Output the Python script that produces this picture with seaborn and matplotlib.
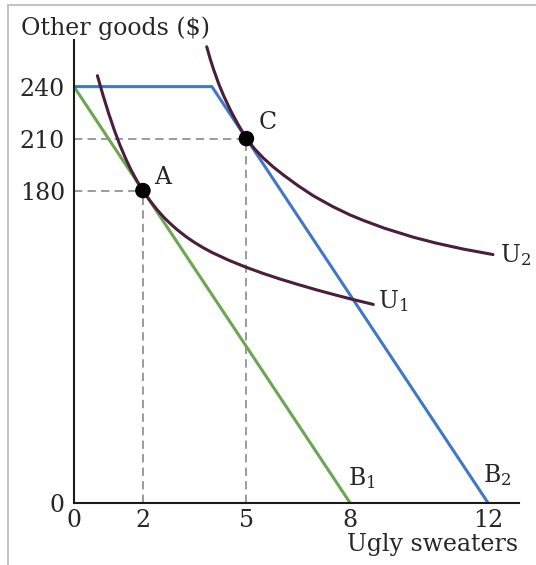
import pandas as pd
import matplotlib
matplotlib.use("Agg")
import matplotlib.pyplot as plt
from matplotlib.lines import Line2D
import seaborn as sns

# budget lines
b1_x = [0, 8]
b1_y = [240, 0]
b2_x = [0, 4, 12]
b2_y = [240, 240, 0]

# indifference curves
u1_x = [0.68, 0.84, 1.0, 1.17, 1.33, 1.5, 1.66, 1.83, 2.0, 2.2, 2.4, 2.6, 2.8, 3.0,
        3.25, 3.5, 3.75, 4.0, 4.5, 5.0, 5.5, 6.0, 6.5, 7.0, 7.5, 8.0, 8.68]
u1_y = [246.3, 235.2, 224.9, 214.9, 206.4, 198.4, 191.7, 185.5, 180, 174.3, 169.2, 164.7,
        160.8, 157.3, 153.4, 150.0, 147.0, 144.3, 139.7, 135.7, 132.1, 128.8, 125.8,
        122.9, 120.2, 117.6, 114.3]
u2_x = [3.85, 3.95, 4.05, 4.2, 4.35, 4.55, 4.75, 5.0, 5.25, 5.5, 5.78, 6.1, 6.5, 6.94,
        7.5, 8.0, 8.39, 9.0, 9.84, 10.5, 11.3, 12.15]
u2_y = [263, 256, 249.8, 241.5, 234.3, 225.9, 218.5, 210, 203.8, 198.6, 193.6, 188.6,
        182.8, 177, 170.8, 166, 162.8, 158.3, 153.1, 149.7, 146.2, 143.1]

# optimal bundles
pt_x = [2, 5]
pt_y = [180, 210]
pt_labels = ["A", "C"]

xticks = [0, 2, 5, 8, 12]
yticks = [0, 180, 210, 240]

GREEN = "#6aa84f"
BLUE = "#4078c8"
PURPLE = "#4a1e3c"

sns.set_style("white")
plt.rcParams["font.family"] = ["DejaVu Serif"]
plt.rcParams["mathtext.fontset"] = "dejavuserif"
FS = 17

fig = plt.figure(figsize=(5.36, 5.65), dpi=100)
ax = fig.add_axes([0.138, 0.1106, 0.830, 0.8186])

# dashed guides to the axes
for x, y in zip(pt_x, pt_y):
    ax.plot([0, x], [y, y], color="#939393", lw=1.3, dashes=(4.6, 2.9), zorder=1)
    ax.plot([x, x], [0, y], color="#939393", lw=1.3, dashes=(4.6, 2.9), zorder=1)

sns.lineplot(x=b1_x, y=b1_y, color=GREEN, lw=2.2, sort=False, estimator=None, ax=ax, zorder=2)
sns.lineplot(x=b2_x, y=b2_y, color=BLUE, lw=2.2, sort=False, estimator=None, ax=ax, zorder=2)
sns.lineplot(x=u1_x, y=u1_y, color=PURPLE, lw=2.2, sort=False, estimator=None, ax=ax, zorder=3)
sns.lineplot(x=u2_x, y=u2_y, color=PURPLE, lw=2.2, sort=False, estimator=None, ax=ax, zorder=3)

pts = pd.DataFrame({"x": pt_x, "y": pt_y, "label": pt_labels})
sns.scatterplot(data=pts, x="x", y="y", color="black", s=125, edgecolor="none", ax=ax, zorder=4)

ax.text(2.33, 187.5, "A", fontsize=FS, va="center", ha="left")
ax.text(5.34, 219.5, "C", fontsize=FS, va="center", ha="left")
ax.text(8.82, 112, r"U$_1$", fontsize=FS, va="baseline", ha="left")
ax.text(12.35, 138.6, r"U$_2$", fontsize=FS, va="baseline", ha="left")
ax.text(7.95, 10, r"B$_1$", fontsize=FS, va="baseline", ha="left")
ax.text(11.86, 12, r"B$_2$", fontsize=FS, va="baseline", ha="left")

ax.set_xlim(0, 12.9)
ax.set_ylim(0, 266.9)
ax.set_xticks(xticks)
ax.set_yticks(yticks)
ax.tick_params(axis="y", length=0, labelsize=FS, pad=6.5)
ax.tick_params(axis="x", length=0, labelsize=FS, pad=5)
ax.set_xlabel("")
ax.set_ylabel("")
for side in ["top", "right"]:
    ax.spines[side].set_visible(False)
for side in ["left", "bottom"]:
    ax.spines[side].set_color("#1a1a1a")
    ax.spines[side].set_linewidth(1.5)

fig.text(0.0386, 0.938, "Other goods ($)", fontsize=FS, va="baseline", ha="left")
fig.text(0.967, 0.024, "Ugly sweaters", fontsize=FS, va="baseline", ha="right")

# thin gray frame on the left and top of the image
fig.add_artist(Line2D([7.5 / 536, 7.5 / 536], [0, 1 - 5 / 565], color="#c4c4c4", lw=1.5))
fig.add_artist(Line2D([7.5 / 536, 1], [1 - 5 / 565, 1 - 5 / 565], color="#c4c4c4", lw=1.5))

fig.savefig("out.png", dpi=100)
